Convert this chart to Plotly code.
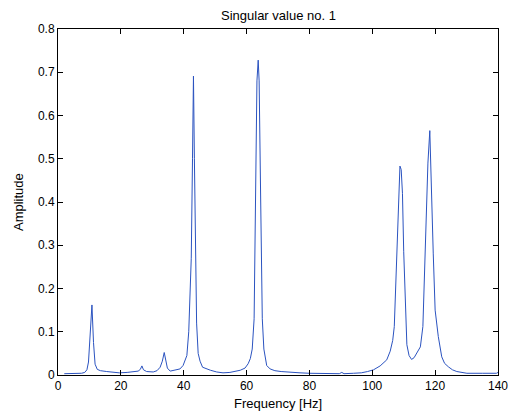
import plotly.graph_objects as go

freq_hz = [
    2.0, 4.0, 6.0, 7.5, 8.5, 9.2, 9.7, 10.2, 10.8, 11.3, 11.8, 12.5, 13.5,
    15.5, 17.5, 19.5, 22.0, 24.0, 25.5, 26.2, 26.7, 27.2, 28.2, 30.3, 31.5,
    32.5, 33.2, 33.8, 34.3, 34.8, 35.7, 37.5, 38.8, 39.8, 40.4, 41.0, 41.6,
    42.0, 42.4, 42.8, 43.1, 43.4, 43.7, 44.1, 44.6, 45.2, 46.0, 47.5, 48.5,
    50.5, 52.5, 54.7, 56.5, 58.0, 59.5, 60.5, 61.2, 61.8, 62.4, 62.9, 63.3,
    63.7, 64.0, 64.5, 65.0, 65.5, 66.4, 67.5, 69.0, 71.0, 74.0, 77.0, 80.0,
    83.5, 87.0, 89.5, 90.3, 91.0, 94.0, 96.5, 98.5, 100.4, 102.5, 104.6,
    105.7, 106.5, 107.0, 107.6, 108.3, 108.8, 109.2, 109.6, 110.0, 110.5,
    111.0, 111.7, 112.5, 113.3, 114.2, 115.3, 116.1, 116.6, 117.1, 117.7,
    118.3, 118.7, 119.4, 120.0, 121.0, 122.1, 123.0, 124.2, 125.5, 126.9,
    128.5, 130.1, 135.0, 139.5, 140.0,
]

amplitude = [
    0.003, 0.003, 0.003, 0.004, 0.006, 0.012, 0.030, 0.080, 0.162, 0.075,
    0.025, 0.013, 0.010, 0.008, 0.006, 0.005, 0.006, 0.007, 0.009, 0.013,
    0.021, 0.012, 0.008, 0.007, 0.010, 0.018, 0.032, 0.052, 0.030, 0.016,
    0.009, 0.011, 0.014, 0.022, 0.035, 0.045, 0.100, 0.170, 0.270, 0.500,
    0.691, 0.500, 0.270, 0.120, 0.050, 0.032, 0.018, 0.013, 0.011, 0.007,
    0.005, 0.006, 0.008, 0.011, 0.016, 0.026, 0.038, 0.060, 0.130, 0.450,
    0.680, 0.728, 0.680, 0.400, 0.130, 0.060, 0.022, 0.014, 0.010, 0.008,
    0.006, 0.005, 0.004, 0.003, 0.003, 0.003, 0.006, 0.003, 0.004, 0.005,
    0.008, 0.012, 0.021, 0.035, 0.055, 0.080, 0.112, 0.243, 0.400, 0.483,
    0.475, 0.420, 0.285, 0.158, 0.070, 0.045, 0.036, 0.040, 0.050, 0.065,
    0.112, 0.220, 0.358, 0.490, 0.565, 0.440, 0.280, 0.150, 0.089, 0.042,
    0.027, 0.019, 0.012, 0.008, 0.006, 0.004, 0.004, 0.004, 0.006,
]

x_ticks = [0, 20, 40, 60, 80, 100, 120, 140]
y_ticks = [0, 0.1, 0.2, 0.3, 0.4, 0.5, 0.6, 0.7, 0.8]
y_tick_labels = ["0", "0.1", "0.2", "0.3", "0.4", "0.5", "0.6", "0.7", "0.8"]

W, H = 512, 416
ML, MR, MT, MB = 58, 14, 29, 41

fig = go.Figure()
fig.add_trace(go.Scatter(
    x=freq_hz, y=amplitude, mode="lines",
    line=dict(color="#2b53c0", width=1),
    showlegend=False,
))

font_family = "Liberation Sans, Arial, sans-serif"
axis_common = dict(
    showline=True, linecolor="black", linewidth=1, mirror="ticks",
    ticks="inside", ticklen=5, tickcolor="black", tickwidth=1,
    showgrid=False, zeroline=False, automargin=False,
    tickfont=dict(family=font_family, size=12, color="black"),
)

fig.update_layout(
    width=W, height=H,
    margin=dict(l=ML, r=MR, t=MT, b=MB, autoexpand=False),
    paper_bgcolor="white", plot_bgcolor="white",
    font=dict(family=font_family, size=12, color="black"),
    xaxis=dict(range=[0, 140], tickvals=x_ticks, **axis_common),
    yaxis=dict(range=[0, 0.8], tickvals=y_ticks, ticktext=y_tick_labels,
               **axis_common),
    annotations=[
        dict(text="Singular value no. 1", xref="paper", yref="paper",
             x=0.5, y=1 + 14 / (H - MT - MB), xanchor="center",
             yanchor="middle", showarrow=False,
             font=dict(family=font_family, size=13, color="black")),
        dict(text="Frequency [Hz]", xref="paper", yref="paper",
             x=0.5, y=-28 / (H - MT - MB), xanchor="center",
             yanchor="middle", showarrow=False,
             font=dict(family=font_family, size=13, color="black")),
        dict(text="Amplitude", xref="paper", yref="paper",
             x=-40 / (W - ML - MR), y=0.5, xanchor="center",
             yanchor="middle", textangle=-90, showarrow=False,
             font=dict(family=font_family, size=13, color="black")),
    ],
)

fig.write_html("out.html")
